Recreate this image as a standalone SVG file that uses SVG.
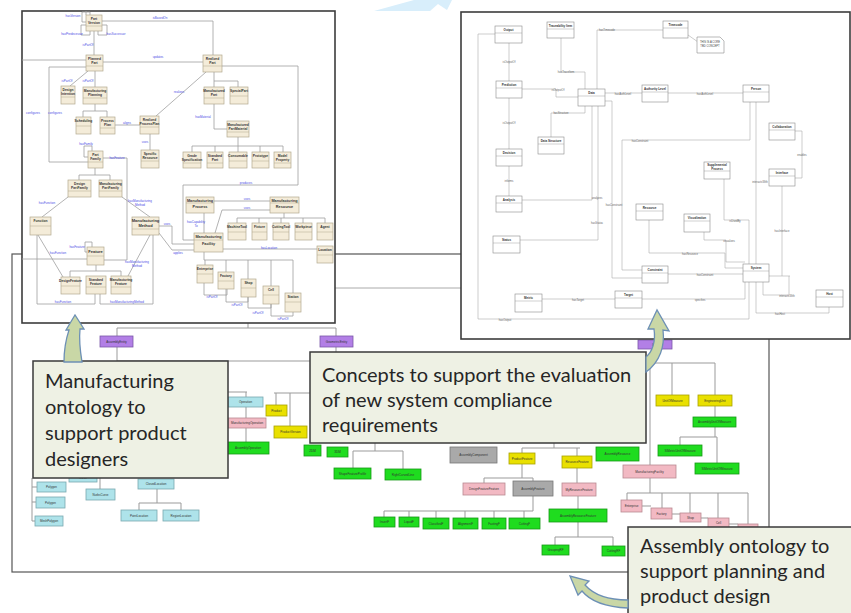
<svg xmlns="http://www.w3.org/2000/svg" width="851" height="613" viewBox="0 0 851 613">
<style>
.pf{fill:#fff;stroke:#3c3c3c;stroke-width:1.6}
.bp{fill:#fff;stroke:#555;stroke-width:1.2}
.b{fill:#f4ecd9;stroke:#b3a98f;stroke-width:0.7}
.sep{stroke:#b3a98f;stroke-width:0.5}
.bt{font-family:"Liberation Sans",Arial,sans-serif;font-size:3.3px;font-weight:bold;fill:#333;text-anchor:middle}
.rl{font-family:"Liberation Sans",Arial,sans-serif;font-size:3px;fill:#4b4be6;text-anchor:middle}
.c{fill:none;stroke:#a0a0a0;stroke-width:0.8}
.w{fill:#fff;stroke:#8a8a8a;stroke-width:0.6}
.wsep{stroke:#8a8a8a;stroke-width:0.4}
.wt{font-family:"Liberation Sans",Arial,sans-serif;font-size:3px;font-weight:bold;fill:#333;text-anchor:middle}
.wl{font-family:"Liberation Sans",Arial,sans-serif;font-size:2.7px;fill:#666;text-anchor:middle}
.rc{fill:none;stroke:#ababab;stroke-width:0.6}
.tl{fill:none;stroke:#9b9b9b;stroke-width:1}
.tt{font-family:"Liberation Sans",Arial,sans-serif;font-size:3px;fill:#333;text-anchor:middle}
.cy{fill:#aee3ea;stroke:#79a9b0;stroke-width:0.8}
.pk{fill:#f2b9c3;stroke:#b98992;stroke-width:0.8}
.gr{fill:#1fdc1f;stroke:#179a17;stroke-width:0.8}
.ye{fill:#e9e000;stroke:#a9a200;stroke-width:0.8}
.gy{fill:#a9a9a9;stroke:#777;stroke-width:0.8}
.pu{fill:#b27fe6;stroke:#7a57a8;stroke-width:0.8}
.co{fill:#eef1e4;stroke:#3a3a3a;stroke-width:1.5}
.ct{font-family:Lato,"Liberation Sans",Arial,sans-serif;font-size:20px;fill:#262626}
.ar{fill:#c9d7a6;stroke:#6d90b5;stroke-width:1.3}
</style>

<!-- light blue fragment at top -->
<polygon points="374,11 414,0 452,0 447,10 438,4 430,11" fill="#d8eefb"/>

<!-- bottom panel -->
<g id="bottom-panel">
<rect class="bp" x="12" y="254" width="757" height="318"/>
<line x1="335" y1="288" x2="461" y2="288" stroke="#aaa" stroke-width="1"/>
</g>

<!-- bottom tree connectors -->
<g id="tree-connectors">
<path class="tl" d="M248,323 V328 M117,328 H336 M117,328 V336 M336,328 V336 M117,347 V361 M336,347 V352 M117,361 H310"/>
<path class="tl" d="M228,392 H247 M246,392 V397 M246,407 V418 M246,428 V442 M274,393 H310 M276,393 V405 M290,393 V426"/>
<path class="tl" d="M375,443 V451 M353,451 H403 M353,451 V468 M403,451 V469"/>
<path class="tl" d="M32,478 V521 M32,487 H37 M32,502 H36 M32,521 H35 M100,478 V489 M157,489 V503 M139,503 H181 M139,503 V510 M181,503 V510"/>
<path class="tl" d="M384,511 H533 M533,496 V511 M384,511 V517 M409,511 V517 M436,511 V518 M465,511 V518 M494,511 V518 M524,511 V518"/>
<path class="tl" d="M554,443 V448 M522,448 H580 M522,448 V453 M577,448 V456 M522,464 V478 M484,478 H533 M484,478 V483 M533,478 V481 M577,468 V483 M578,496 V509 M578,522 V537 M555,537 H613 M555,537 V545 M613,537 V546"/>
<path class="tl" d="M655,349 V363 M646,363 H715 M672,363 V395 M715,363 V395 M650,363 V465 M715,406 V417 M715,427 V437 M680,437 H717 M680,437 V445 M717,437 V463"/>
<path class="tl" d="M650,478 V493 M627,493 H748 M627,493 V500 M662,493 V508 M690,493 V513 M718,493 V518 M748,493 V524 M642,506 H651 M672,514 H680 M701,518 H708 M729,524 H738"/>
</g>

<!-- bottom tree nodes -->
<g id="pu1"><rect class="pu" x="100" y="336" width="33" height="11"/><text class="tt" x="116.5" y="342.5">AssemblyEntity</text></g>
<g id="pu2"><rect class="pu" x="320" y="336" width="33" height="11"/><text class="tt" x="336.5" y="342.5">GeometricEntity</text></g>
<g id="pu3"><rect class="pu" x="638" y="340" width="34" height="9"/><text class="tt" x="655" y="345.5">Unit</text></g>
<g id="cy1"><rect class="cy" x="228" y="397" width="35" height="10"/><text class="tt" x="245.5" y="403">Operation</text></g>
<g id="pk1"><rect class="pk" x="228" y="418" width="38" height="10"/><text class="tt" x="247" y="424">ManufacturingOperation</text></g>
<g id="gr1"><rect class="gr" x="227" y="442" width="42" height="12"/><text class="tt" x="248" y="449">AssemblyOperation</text></g>
<g id="ye1"><rect class="ye" x="266" y="405" width="21" height="11"/><text class="tt" x="276.5" y="411.5">Product</text></g>
<g id="ye2"><rect class="ye" x="274" y="426" width="33" height="12"/><text class="tt" x="290.5" y="433">ProductVersion</text></g>
<g id="gr2"><rect class="gr" x="304" y="445" width="17" height="11"/><text class="tt" x="312.5" y="451.5">2DM</text></g>
<g id="gr3"><rect class="gr" x="327" y="447" width="21" height="10"/><text class="tt" x="337.5" y="453">3DM</text></g>
<g id="gr4"><rect class="gr" x="334" y="468" width="37" height="11"/><text class="tt" x="352.5" y="474.5">ShapeFeatureProfile</text></g>
<g id="gr5"><rect class="gr" x="385" y="469" width="36" height="11"/><text class="tt" x="403" y="475.5">RightCurvedLine</text></g>
<g id="cy2"><rect class="cy" x="37" y="482" width="29" height="10"/><text class="tt" x="51.5" y="488">Polygon</text></g>
<g id="cy3"><rect class="cy" x="36" y="497" width="29" height="11"/><text class="tt" x="50.5" y="503.5">Polygon</text></g>
<g id="cy4"><rect class="cy" x="35" y="516" width="28" height="10"/><text class="tt" x="49" y="522">MeshPolygon</text></g>
<g id="cy5"><rect class="cy" x="69" y="473" width="28" height="9"/><text class="tt" x="83" y="478.5">Curve</text></g>
<g id="cy6"><rect class="cy" x="86" y="489" width="29" height="11"/><text class="tt" x="100.5" y="495.5">NurbsCurve</text></g>
<g id="cy7"><rect class="cy" x="138" y="479" width="36" height="10"/><text class="tt" x="156" y="485">ClosedLocation</text></g>
<g id="cy8"><rect class="cy" x="121" y="510" width="36" height="11"/><text class="tt" x="139" y="516.5">PointLocation</text></g>
<g id="cy9"><rect class="cy" x="163" y="510" width="36" height="11"/><text class="tt" x="181" y="516.5">RegionLocation</text></g>
<g id="gr6"><rect class="gr" x="374" y="517" width="21" height="10"/><text class="tt" x="384.5" y="523">InsertF</text></g>
<g id="gr7"><rect class="gr" x="399" y="517" width="20" height="10"/><text class="tt" x="409" y="523">LiquidF</text></g>
<g id="gr8"><rect class="gr" x="423" y="518" width="26" height="11"/><text class="tt" x="436" y="524.5">ClassifiedF</text></g>
<g id="gr9"><rect class="gr" x="453" y="518" width="25" height="11"/><text class="tt" x="465.5" y="524.5">AlignmentF</text></g>
<g id="gr10"><rect class="gr" x="482" y="518" width="24" height="11"/><text class="tt" x="494" y="524.5">FastingF</text></g>
<g id="gr11"><rect class="gr" x="509" y="518" width="31" height="11"/><text class="tt" x="524.5" y="524.5">CuttingF</text></g>
<g id="gy1"><rect class="gy" x="450" y="447" width="47" height="16"/><text class="tt" x="473.5" y="456">AssemblyComponent</text></g>
<g id="gy2"><rect class="gy" x="513" y="481" width="40" height="15"/><text class="tt" x="533" y="489.5">AssemblyFeature</text></g>
<g id="ye3"><rect class="ye" x="509" y="453" width="26" height="11"/><text class="tt" x="522" y="459.5">ProductFeature</text></g>
<g id="ye4"><rect class="ye" x="562" y="456" width="30" height="12"/><text class="tt" x="577" y="463">ResourceFeature</text></g>
<g id="gr12"><rect class="gr" x="596" y="447" width="43" height="14"/><text class="tt" x="617.5" y="455">AssemblyResource</text></g>
<g id="ye5"><rect class="ye" x="656" y="395" width="33" height="11"/><text class="tt" x="672.5" y="401.5">UnitOfMeasure</text></g>
<g id="ye6"><rect class="ye" x="698" y="395" width="34" height="11"/><text class="tt" x="715" y="401.5">EngineeringUnit</text></g>
<g id="gr13"><rect class="gr" x="693" y="417" width="43" height="10"/><text class="tt" x="714.5" y="423">AssemblyUnitOfMeasure</text></g>
<g id="gr14"><rect class="gr" x="658" y="445" width="44" height="11"/><text class="tt" x="680" y="451.5">SIMetricUnitOfMeasure</text></g>
<g id="gr15"><rect class="gr" x="695" y="463" width="44" height="11"/><text class="tt" x="717" y="469.5">SIMetricUnitOfMeasure</text></g>
<g id="pk2"><rect class="pk" x="623" y="465" width="53" height="13"/><text class="tt" x="649.5" y="472.5">ManufacturingFacility</text></g>
<g id="pk3"><rect class="pk" x="463" y="483" width="42" height="12"/><text class="tt" x="484" y="490">DesignFeatureFeature</text></g>
<g id="pk4"><rect class="pk" x="562" y="483" width="34" height="13"/><text class="tt" x="579" y="490.5">MyResourceFeature</text></g>
<g id="gr16"><rect class="gr" x="549" y="509" width="58" height="13"/><text class="tt" x="578" y="516.5">AssemblyResourceFeature</text></g>
<g id="gr17"><rect class="gr" x="542" y="545" width="27" height="10"/><text class="tt" x="555.5" y="551">GraspingRF</text></g>
<g id="gr18"><rect class="gr" x="602" y="546" width="23" height="10"/><text class="tt" x="613.5" y="552">CuttingRF</text></g>
<g id="pk5"><rect class="pk" x="621" y="500" width="21" height="12"/><text class="tt" x="631.5" y="507">Enterprise</text></g>
<g id="pk6"><rect class="pk" x="651" y="508" width="21" height="11"/><text class="tt" x="661.5" y="514.5">Factory</text></g>
<g id="pk7"><rect class="pk" x="680" y="513" width="21" height="9"/><text class="tt" x="690.5" y="518.5">Shop</text></g>
<g id="pk8"><rect class="pk" x="708" y="518" width="21" height="10"/><text class="tt" x="718.5" y="524">Cell</text></g>
<g id="pk9"><rect class="pk" x="738" y="524" width="20" height="9"/></g>

<!-- left top panel -->
<g id="left-panel">
<rect class="pf" x="22" y="11" width="313" height="312"/>
<g id="left-connectors">
<path class="c" d="M94,31 V55 M213,55 V21 H102 M22,60 H86 M103,62 H203 M49,67 H86 M49,67 V162 H88 M70,86 L88,71 M95,87 V71 M83,117 V111 H107 V117 M95,111 V104 M115,125 H140 M156,116 L206,72 M150,134 V150 M214,87 V72 M214,81 H238 V87 M214,104 V129 H227"/>
<path class="c" d="M238,137 V146 M192,146 H283 M192,146 V152 M215,146 V152 M238,146 V152 M260,146 V152 M283,146 V152 M222,66 H298 V185 H183 V240 H194"/>
<path class="c" d="M92,151 V146 H84 V157 H88 M86,15 V11 M90,15 V12 H82 V22 H86 M102,25 H107 V35 H98 V31 M86,25 H81 V35 H90 V31"/>
<path class="c" d="M79,180 V175 H110 V180 M95,175 V168 M103,158 H127 V260 H104 M68,197 L42,217 M122,197 L150,217 M92,247 V242 H85 V252 H87 M70,277 V271 H121 V276 M96,271 V265 M63,277 L38,235 M95,294 V304 H37 V235 M100,294 V304 H153 V235 M128,276 L150,235"/>
<path class="c" d="M159,226 H172 V244 H194 M159,233 L172,250 H194 M22,259 H87 M214,201 H270 M215,233 L222,210 H270 M204,213 V233 M284,213 V218 M237,218 H325 M237,218 V223 M259,218 V223 M281,218 V223 M303,218 V223 M325,218 V223 M223,249 H317"/>
<path class="c" d="M204,252 V260 H293 M205,260 V265 M226,260 V272 M248,260 V279 M271,260 V286 M293,260 V293 M204,283 V295 H227 V289 M226,289 V302 H248 V297 M248,297 V308 H271 V304 M271,304 V316 H293 V312"/>
</g>
<g id="left-labels">
<text class="rl" x="73" y="17">hasVersion</text>
<text class="rl" x="72" y="35">hasPredecessor</text>
<text class="rl" x="116" y="35">hasSuccessor</text>
<text class="rl" x="88" y="46">isPartOf</text>
<text class="rl" x="160" y="19">isBasedOn</text>
<text class="rl" x="158" y="58">updates</text>
<text class="rl" x="67" y="82">isPartOf</text>
<text class="rl" x="88" y="82">isPartOf</text>
<text class="rl" x="33" y="114">configures</text>
<text class="rl" x="55" y="114">configures</text>
<text class="rl" x="127" y="124">aligns</text>
<text class="rl" x="179" y="93">realizes</text>
<text class="rl" x="203" y="118">hasMaterial</text>
<text class="rl" x="145" y="143">uses</text>
<text class="rl" x="86" y="145">hasFamily</text>
<text class="rl" x="117" y="159">hasFeature</text>
<text class="rl" x="47" y="204">hasFunction</text>
<text class="rl" x="140" y="202">hasManufacturing</text>
<text class="rl" x="140" y="206">Method</text>
<text class="rl" x="77" y="248">hasFeature</text>
<text class="rl" x="58" y="254">hasFunction</text>
<text class="rl" x="137" y="263">hasManufacturing</text>
<text class="rl" x="137" y="267">Method</text>
<text class="rl" x="63" y="303">hasFunction</text>
<text class="rl" x="127" y="303">hasManufacturingMethod</text>
<text class="rl" x="167" y="225">uses</text>
<text class="rl" x="178" y="254">applies</text>
<text class="rl" x="246" y="184">produces</text>
<text class="rl" x="247" y="200">uses</text>
<text class="rl" x="247" y="209">uses</text>
<text class="rl" x="196" y="223">hasCapability</text>
<text class="rl" x="196" y="227">To</text>
<text class="rl" x="269" y="249">hasLocation</text>
<text class="rl" x="212" y="298">isPartOf</text>
<text class="rl" x="237" y="306">isPartOf</text>
<text class="rl" x="258" y="314">isPartOf</text>
<text class="rl" x="283" y="320">isPartOf</text>
</g>
<g id="n-part-version"><rect class="b" x="86" y="15" width="16" height="16"/><line class="sep" x1="86" y1="26" x2="102" y2="26"/><text class="bt" x="94" y="19.5">Part</text><text class="bt" x="94" y="23.5">Version</text></g>
<g id="n-planned-part"><rect class="b" x="86" y="55" width="17" height="16"/><line class="sep" x1="86" y1="66" x2="103" y2="66"/><text class="bt" x="94.5" y="59.5">Planned</text><text class="bt" x="94.5" y="63.5">Part</text></g>
<g id="n-realized-part"><rect class="b" x="203" y="55" width="19" height="17"/><line class="sep" x1="203" y1="66" x2="222" y2="66"/><text class="bt" x="212.5" y="59.5">Realized</text><text class="bt" x="212.5" y="63.5">Part</text></g>
<g id="n-design-intention"><rect class="b" x="61" y="86" width="14" height="18"/><line class="sep" x1="61" y1="97" x2="75" y2="97"/><text class="bt" x="68" y="90.5">Design</text><text class="bt" x="68" y="94.5">Intention</text></g>
<g id="n-mfg-planning"><rect class="b" x="83" y="87" width="24" height="17"/><line class="sep" x1="83" y1="98" x2="107" y2="98"/><text class="bt" x="95" y="91.5">Manufacturing</text><text class="bt" x="95" y="95.5">Planning</text></g>
<g id="n-scheduling"><rect class="b" x="76" y="117" width="15" height="17"/><line class="sep" x1="76" y1="126" x2="91" y2="126"/><text class="bt" x="83.5" y="122">Scheduling</text></g>
<g id="n-process-plan"><rect class="b" x="100" y="117" width="15" height="17"/><line class="sep" x1="100" y1="128" x2="115" y2="128"/><text class="bt" x="107.5" y="121.5">Process</text><text class="bt" x="107.5" y="125.5">Plan</text></g>
<g id="n-realized-pp"><rect class="b" x="140" y="116" width="19" height="18"/><line class="sep" x1="140" y1="127" x2="159" y2="127"/><text class="bt" x="149.5" y="120.5">Realized</text><text class="bt" x="149.5" y="124.5">ProcessPlan</text></g>
<g id="n-specific-resource"><rect class="b" x="141" y="150" width="18" height="18"/><line class="sep" x1="141" y1="161" x2="159" y2="161"/><text class="bt" x="150" y="154.5">Specific</text><text class="bt" x="150" y="158.5">Resource</text></g>
<g id="n-mfd-part"><rect class="b" x="204" y="87" width="20" height="17"/><line class="sep" x1="204" y1="98" x2="224" y2="98"/><text class="bt" x="214" y="91.5">Manufactured</text><text class="bt" x="214" y="95.5">Part</text></g>
<g id="n-special-part"><rect class="b" x="230" y="87" width="18" height="17"/><line class="sep" x1="230" y1="96" x2="248" y2="96"/><text class="bt" x="239" y="92">SpecialPart</text></g>
<g id="n-mfd-partmat"><rect class="b" x="227" y="121" width="22" height="16"/><line class="sep" x1="227" y1="132" x2="249" y2="132"/><text class="bt" x="238" y="125.5">Manufactured</text><text class="bt" x="238" y="129.5">PartMaterial</text></g>
<g id="n-grade"><rect class="b" x="183" y="152" width="18" height="16"/><line class="sep" x1="183" y1="163" x2="201" y2="163"/><text class="bt" x="192" y="156.5">Grade</text><text class="bt" x="192" y="160.5">Specification</text></g>
<g id="n-standard-part"><rect class="b" x="207" y="152" width="16" height="16"/><line class="sep" x1="207" y1="163" x2="223" y2="163"/><text class="bt" x="215" y="156.5">Standard</text><text class="bt" x="215" y="160.5">Part</text></g>
<g id="n-consumable"><rect class="b" x="229" y="152" width="18" height="16"/><line class="sep" x1="229" y1="161" x2="247" y2="161"/><text class="bt" x="238" y="157">Consumable</text></g>
<g id="n-prototype"><rect class="b" x="252" y="152" width="17" height="16"/><line class="sep" x1="252" y1="161" x2="269" y2="161"/><text class="bt" x="260.5" y="157">Prototype</text></g>
<g id="n-model-property"><rect class="b" x="274" y="152" width="17" height="16"/><line class="sep" x1="274" y1="163" x2="291" y2="163"/><text class="bt" x="282.5" y="156.5">Model</text><text class="bt" x="282.5" y="160.5">Property</text></g>
<g id="n-part-family"><rect class="b" x="88" y="151" width="15" height="17"/><line class="sep" x1="88" y1="162" x2="103" y2="162"/><text class="bt" x="95.5" y="155.5">Part</text><text class="bt" x="95.5" y="159.5">Family</text></g>
<g id="n-design-pf"><rect class="b" x="68" y="180" width="23" height="17"/><line class="sep" x1="68" y1="191" x2="91" y2="191"/><text class="bt" x="79.5" y="184.5">Design</text><text class="bt" x="79.5" y="188.5">PartFamily</text></g>
<g id="n-mfg-pf"><rect class="b" x="99" y="180" width="23" height="17"/><line class="sep" x1="99" y1="191" x2="122" y2="191"/><text class="bt" x="110.5" y="184.5">Manufacturing</text><text class="bt" x="110.5" y="188.5">PartFamily</text></g>
<g id="n-function"><rect class="b" x="30" y="217" width="21" height="18"/><line class="sep" x1="30" y1="226" x2="51" y2="226"/><text class="bt" x="40.5" y="222">Function</text></g>
<g id="n-mfg-method"><rect class="b" x="132" y="217" width="27" height="18"/><line class="sep" x1="132" y1="229" x2="159" y2="229"/><text class="bt" x="145.5" y="222" style="font-size:4px">Manufacturing</text><text class="bt" x="145.5" y="227" style="font-size:4px">Method</text></g>
<g id="n-feature"><rect class="b" x="87" y="247" width="17" height="18"/><line class="sep" x1="87" y1="256" x2="104" y2="256"/><text class="bt" x="95.5" y="252.5" style="font-size:4px">Feature</text></g>
<g id="n-design-feature"><rect class="b" x="61" y="277" width="19" height="17"/><line class="sep" x1="61" y1="286" x2="80" y2="286"/><text class="bt" x="70.5" y="282">DesignFeature</text></g>
<g id="n-standard-feature"><rect class="b" x="86" y="276" width="20" height="18"/><line class="sep" x1="86" y1="287" x2="106" y2="287"/><text class="bt" x="96" y="280.5">Standard</text><text class="bt" x="96" y="284.5">Feature</text></g>
<g id="n-mfg-feature"><rect class="b" x="111" y="276" width="20" height="18"/><line class="sep" x1="111" y1="287" x2="131" y2="287"/><text class="bt" x="121" y="280.5">Manufacturing</text><text class="bt" x="121" y="284.5">Feature</text></g>
<g id="n-mfg-process"><rect class="b" x="186" y="197" width="28" height="16"/><line class="sep" x1="186" y1="203" x2="214" y2="203"/><text class="bt" x="200" y="201.5" style="font-size:3.8px">Manufacturing</text><text class="bt" x="200" y="207.5" style="font-size:3.8px">Process</text></g>
<g id="n-mfg-resource"><rect class="b" x="270" y="197" width="29" height="16"/><line class="sep" x1="270" y1="203" x2="299" y2="203"/><text class="bt" x="284.5" y="201.5" style="font-size:3.8px">Manufacturing</text><text class="bt" x="284.5" y="207.5" style="font-size:3.8px">Resource</text></g>
<g id="n-machine-tool"><rect class="b" x="228" y="223" width="18" height="17"/><line class="sep" x1="228" y1="232" x2="246" y2="232"/><text class="bt" x="237" y="228">MachineTool</text></g>
<g id="n-fixture"><rect class="b" x="252" y="223" width="15" height="17"/><line class="sep" x1="252" y1="232" x2="267" y2="232"/><text class="bt" x="259.5" y="228">Fixture</text></g>
<g id="n-cutting-tool"><rect class="b" x="273" y="223" width="16" height="17"/><line class="sep" x1="273" y1="232" x2="289" y2="232"/><text class="bt" x="281" y="228">CuttingTool</text></g>
<g id="n-workpiece"><rect class="b" x="295" y="223" width="17" height="17"/><line class="sep" x1="295" y1="232" x2="312" y2="232"/><text class="bt" x="303.5" y="228">Workpiece</text></g>
<g id="n-agent"><rect class="b" x="317" y="223" width="16" height="17"/><line class="sep" x1="317" y1="232" x2="333" y2="232"/><text class="bt" x="325" y="228">Agent</text></g>
<g id="n-mfg-facility"><rect class="b" x="194" y="233" width="29" height="19"/><line class="sep" x1="194" y1="240" x2="223" y2="240"/><text class="bt" x="208.5" y="238" style="font-size:3.8px">Manufacturing</text><text class="bt" x="208.5" y="245" style="font-size:3.8px">Facility</text></g>
<g id="n-location"><rect class="b" x="317" y="246" width="16" height="17"/><line class="sep" x1="317" y1="255" x2="333" y2="255"/><text class="bt" x="325" y="251">Location</text></g>
<g id="n-enterprise"><rect class="b" x="197" y="265" width="16" height="18"/><line class="sep" x1="197" y1="274" x2="213" y2="274"/><text class="bt" x="205" y="270">Enterprise</text></g>
<g id="n-factory"><rect class="b" x="218" y="272" width="16" height="17"/><line class="sep" x1="218" y1="281" x2="234" y2="281"/><text class="bt" x="226" y="277">Factory</text></g>
<g id="n-shop"><rect class="b" x="241" y="279" width="15" height="18"/><line class="sep" x1="241" y1="288" x2="256" y2="288"/><text class="bt" x="248.5" y="284">Shop</text></g>
<g id="n-cell"><rect class="b" x="263" y="286" width="16" height="18"/><line class="sep" x1="263" y1="295" x2="279" y2="295"/><text class="bt" x="271" y="291">Cell</text></g>
<g id="n-station"><rect class="b" x="285" y="293" width="16" height="19"/><line class="sep" x1="285" y1="302" x2="301" y2="302"/><text class="bt" x="293" y="298">Station</text></g>
</g>

<!-- right top panel -->
<g id="right-panel">
<rect class="pf" x="461" y="12" width="389" height="327"/>
<g id="right-connectors">
<path class="rc" d="M509,81 V43 M509,98 V149 M509,166 V196 M522,89 H556 V97 H578 M561,38 V72 H585 V89 M597,89 V30 H663 M688,35 L698,42 M605,93 H642 M668,93 H743 M585,106 V113 H551 V137 M522,200 H592 V106 M520,240 H598 V106 M605,101 H612 V278 H642"/>
<path class="rc" d="M750,102 V140 H622 V270 H642 M756,102 V264 M795,131 H802 V178 H795 M724,179 V220 H749 V264 M782,186 V276 M769,276 H790 M649,220 V253 H725 V268 H743 M704,232 V240 H726 V262 H745 M668,274 H743 M745,282 V299 H642 M542,299 H615 M749,282 V319 H478 V34 H495 M756,282 V313 H829 V307 M763,282 V295 H789 V276"/>
</g>
<g id="right-labels">
<text class="wl" x="509" y="63">isOutputOf</text>
<text class="wl" x="509" y="124">isOutputOf</text>
<text class="wl" x="509" y="182">informs</text>
<text class="wl" x="558" y="91">isOutputOf</text>
<text class="wl" x="566" y="73">hasTraceItem</text>
<text class="wl" x="607" y="31">hasTimecode</text>
<text class="wl" x="623" y="95">hasAuthLevel</text>
<text class="wl" x="705" y="95">hasAuthLevel</text>
<text class="wl" x="561" y="114">hasStructure</text>
<text class="wl" x="597" y="199">analyzes</text>
<text class="wl" x="597" y="224">hasStatus</text>
<text class="wl" x="614" y="206">hasConstraint</text>
<text class="wl" x="640" y="142">hasConstraint</text>
<text class="wl" x="760" y="183">interactsWith</text>
<text class="wl" x="802" y="156">enables</text>
<text class="wl" x="735" y="222">isUsedBy</text>
<text class="wl" x="782" y="232">hasInterface</text>
<text class="wl" x="690" y="255">hasResource</text>
<text class="wl" x="729" y="242">visualizes</text>
<text class="wl" x="705" y="276">hasConstraint</text>
<text class="wl" x="700" y="301">specifies</text>
<text class="wl" x="578" y="301">hasTarget</text>
<text class="wl" x="505" y="321">hasOutput</text>
<text class="wl" x="787" y="297">interactsWith</text>
<text class="wl" x="780" y="315">hasHost</text>
</g>
<g id="r-output"><rect class="w" x="495" y="26" width="27" height="17"/><line class="wsep" x1="495" y1="33" x2="522" y2="33"/><text class="wt" x="508.5" y="31">Output</text></g>
<g id="r-traceability"><rect class="w" x="547" y="22" width="27" height="16"/><line class="wsep" x1="547" y1="29" x2="574" y2="29"/><text class="wt" x="560.5" y="27">Traceability Item</text></g>
<g id="r-timecode"><rect class="w" x="663" y="21" width="25" height="17"/><line class="wsep" x1="663" y1="28" x2="688" y2="28"/><text class="wt" x="675.5" y="26">Timecode</text></g>
<g id="r-note"><path class="w" d="M697,37 H720 L724,41 V53 H697 Z"/><text class="wl" x="710" y="43" style="fill:#444">THIS IS A CORE</text><text class="wl" x="710" y="47" style="fill:#444">TBD CONCEPT</text></g>
<g id="r-prediction"><rect class="w" x="496" y="81" width="26" height="17"/><line class="wsep" x1="496" y1="88" x2="522" y2="88"/><text class="wt" x="509" y="86">Prediction</text></g>
<g id="r-data"><rect class="w" x="578" y="89" width="27" height="17"/><line class="wsep" x1="578" y1="96" x2="605" y2="96"/><text class="wt" x="591.5" y="94">Data</text></g>
<g id="r-authority"><rect class="w" x="642" y="85" width="26" height="17"/><line class="wsep" x1="642" y1="92" x2="668" y2="92"/><text class="wt" x="655" y="90">Authority Level</text></g>
<g id="r-person"><rect class="w" x="743" y="85" width="26" height="17"/><line class="wsep" x1="743" y1="92" x2="769" y2="92"/><text class="wt" x="756" y="90">Person</text></g>
<g id="r-data-structure"><rect class="w" x="538" y="137" width="26" height="17"/><line class="wsep" x1="538" y1="144" x2="564" y2="144"/><text class="wt" x="551" y="142">Data Structure</text></g>
<g id="r-collaboration"><rect class="w" x="769" y="123" width="26" height="17"/><line class="wsep" x1="769" y1="130" x2="795" y2="130"/><text class="wt" x="782" y="128">Collaboration</text></g>
<g id="r-decision"><rect class="w" x="496" y="149" width="26" height="17"/><line class="wsep" x1="496" y1="156" x2="522" y2="156"/><text class="wt" x="509" y="154">Decision</text></g>
<g id="r-supplemental"><rect class="w" x="704" y="162" width="26" height="17"/><line class="wsep" x1="704" y1="171" x2="730" y2="171"/><text class="wt" x="717" y="166">Supplemental</text><text class="wt" x="717" y="169.5">Process</text></g>
<g id="r-interface"><rect class="w" x="769" y="169" width="26" height="17"/><line class="wsep" x1="769" y1="176" x2="795" y2="176"/><text class="wt" x="782" y="174">Interface</text></g>
<g id="r-analysis"><rect class="w" x="496" y="196" width="26" height="16"/><line class="wsep" x1="496" y1="203" x2="522" y2="203"/><text class="wt" x="509" y="201">Analysis</text></g>
<g id="r-resource"><rect class="w" x="636" y="204" width="27" height="16"/><line class="wsep" x1="636" y1="211" x2="663" y2="211"/><text class="wt" x="649.5" y="209">Resource</text></g>
<g id="r-visualization"><rect class="w" x="684" y="214" width="26" height="18"/><line class="wsep" x1="684" y1="221" x2="710" y2="221"/><text class="wt" x="697" y="219">Visualization</text></g>
<g id="r-status"><rect class="w" x="493" y="236" width="27" height="17"/><line class="wsep" x1="493" y1="243" x2="520" y2="243"/><text class="wt" x="506.5" y="241">Status</text></g>
<g id="r-constraint"><rect class="w" x="642" y="266" width="26" height="17"/><line class="wsep" x1="642" y1="273" x2="668" y2="273"/><text class="wt" x="655" y="271">Constraint</text></g>
<g id="r-system"><rect class="w" x="743" y="264" width="26" height="18"/><line class="wsep" x1="743" y1="271" x2="769" y2="271"/><text class="wt" x="756" y="269">System</text></g>
<g id="r-metric"><rect class="w" x="515" y="294" width="27" height="18"/><line class="wsep" x1="515" y1="301" x2="542" y2="301"/><text class="wt" x="528.5" y="299">Metric</text></g>
<g id="r-target"><rect class="w" x="615" y="291" width="27" height="17"/><line class="wsep" x1="615" y1="298" x2="642" y2="298"/><text class="wt" x="628.5" y="296">Target</text></g>
<g id="r-host"><rect class="w" x="816" y="290" width="27" height="17"/><line class="wsep" x1="816" y1="297" x2="843" y2="297"/><text class="wt" x="829.5" y="295">Host</text></g>
</g>

<!-- callouts -->
<g id="callout-manufacturing">
<rect class="co" x="33" y="361" width="195" height="117"/>
<text class="ct"><tspan x="45" y="388">Manufacturing</tspan><tspan x="45" y="414">ontology to</tspan><tspan x="45" y="440">support product</tspan><tspan x="45" y="466">designers</tspan></text>
</g>
<g id="callout-concepts">
<rect class="co" x="310" y="352" width="336" height="91"/>
<text class="ct"><tspan x="322" y="382">Concepts to support the evaluation</tspan><tspan x="322" y="407">of new system compliance</tspan><tspan x="322" y="432">requirements</tspan></text>
</g>
<g id="callout-assembly">
<rect class="co" x="628" y="527" width="230" height="95"/>
<text class="ct"><tspan x="640" y="553">Assembly ontology to</tspan><tspan x="640" y="578">support planning and</tspan><tspan x="640" y="603">product design</tspan></text>
</g>

<!-- curved arrows -->
<g id="arrows">
<path class="ar" d="M64,362 C64,350 66,339 69,330 L66,330 L75,315 L84,329 L80,329 C79,339 80,350 82,362 Z"/>
<path class="ar" d="M646,372 C660,362 665,346 663,330 L669,331 L657,310 L648,329 L654,329 C656,342 652,352 646,357 Z"/>
<path class="ar" d="M628,608 C606,607 590,601 582,591 L578,595 L570,576 L589,581 L585,585 C593,594 607,600 628,600 Z"/>
</g>
</svg>
